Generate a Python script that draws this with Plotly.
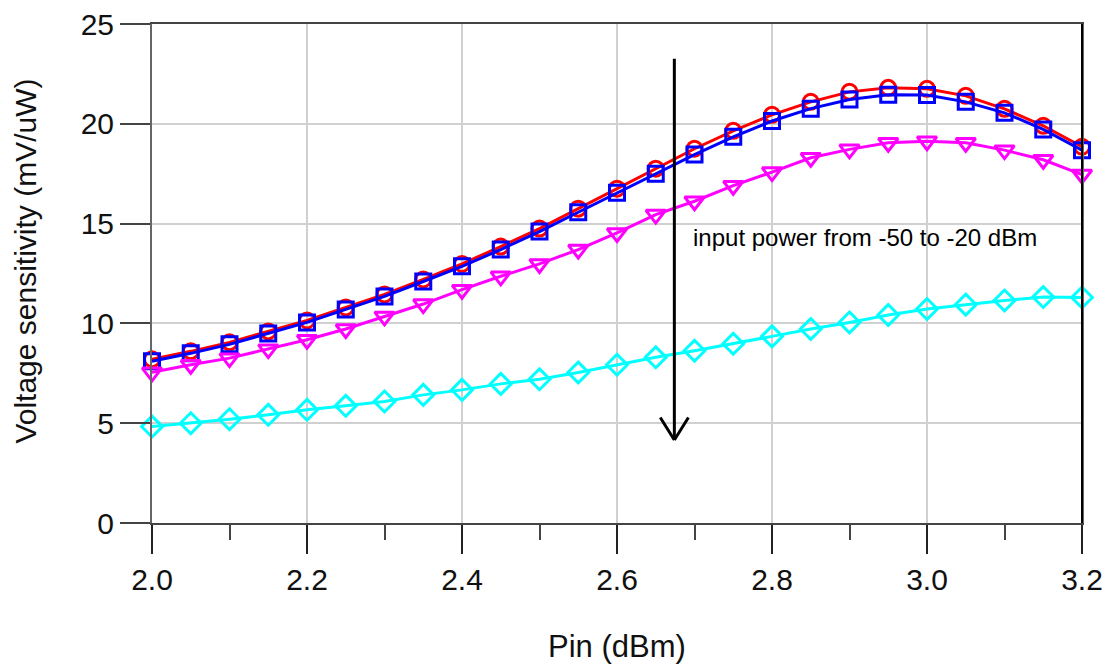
import plotly.graph_objects as go

pin = [2.00, 2.05, 2.10, 2.15, 2.20, 2.25, 2.30, 2.35, 2.40, 2.45, 2.50, 2.55, 2.60,
       2.65, 2.70, 2.75, 2.80, 2.85, 2.90, 2.95, 3.00, 3.05, 3.10, 3.15, 3.20]

red_vals = [8.2, 8.6, 9.05, 9.6, 10.15, 10.8, 11.45, 12.2, 12.98, 13.85, 14.75, 15.75, 16.75,
            17.75, 18.75, 19.65, 20.45, 21.1, 21.6, 21.8, 21.75, 21.4, 20.75, 19.9, 18.85]
blue_vals = [8.1, 8.5, 8.95, 9.5, 10.05, 10.7, 11.35, 12.1, 12.86, 13.7, 14.6, 15.57, 16.54,
             17.5, 18.46, 19.35, 20.14, 20.76, 21.22, 21.45, 21.44, 21.1, 20.55, 19.72, 18.68]
magenta_vals = [7.55, 7.93, 8.26, 8.71, 9.18, 9.72, 10.35, 10.97, 11.69, 12.36, 12.98, 13.7, 14.53,
                15.45, 16.12, 16.9, 17.58, 18.3, 18.72, 19.05, 19.13, 19.05, 18.68, 18.2, 17.46]
cyan_vals = [4.83, 5.0, 5.2, 5.42, 5.67, 5.87, 6.09, 6.42, 6.67, 6.97, 7.2, 7.54, 7.93,
             8.3, 8.63, 8.98, 9.35, 9.72, 10.05, 10.42, 10.72, 10.94, 11.15, 11.32, 11.3]

x_ticks = [2.0, 2.2, 2.4, 2.6, 2.8, 3.0, 3.2]
x_ticklabels = ["2.0", "2.2", "2.4", "2.6", "2.8", "3.0", "3.2"]
y_ticks = [0, 5, 10, 15, 20, 25]

arrow_x = 2.674
arrow_y_start = 23.33
arrow_y_end = 4.16
note_text = "input power from -50 to -20 dBm"
note_x = 2.695
note_y = 14.3

FONT = "Liberation Sans, Arial, sans-serif"

series = [
    (red_vals, "#ff0000", "circle-open", 15),
    (blue_vals, "#0000ff", "square-open", 15),
    (magenta_vals, "#ff00ff", "triangle-down-open", 17),
    (cyan_vals, "#00ffff", "diamond-open", 16),
]

fig = go.Figure()
for vals, color, sym, sz in series:
    fig.add_trace(go.Scatter(
        x=pin, y=vals, mode="lines+markers",
        line=dict(color=color, width=3),
        marker=dict(symbol=sym, size=sz, color=color, line=dict(color=color, width=3)),
        showlegend=False, cliponaxis=False,
    ))

# arrow shaft
fig.add_annotation(
    x=arrow_x, y=arrow_y_end, ax=arrow_x, ay=arrow_y_start,
    xref="x", yref="y", axref="x", ayref="y",
    text="", showarrow=True, arrowhead=0, arrowwidth=3, arrowcolor="black",
)
# open V arrowhead (pixel offsets from the tip)
for dx in (-15, 15):
    fig.add_annotation(
        x=arrow_x, y=arrow_y_end, xref="x", yref="y", ax=dx, ay=-24,
        text="", showarrow=True, arrowhead=0, arrowwidth=3, arrowcolor="black",
    )
fig.add_annotation(
    x=note_x, y=note_y, xref="x", yref="y", text=note_text, showarrow=False,
    xanchor="left", yanchor="middle", font=dict(family=FONT, size=24, color="black"),
)
fig.add_annotation(
    x=0.5, y=-0.248, xref="paper", yref="paper", text="Pin (dBm)", showarrow=False,
    xanchor="center", yanchor="middle", font=dict(family=FONT, size=31, color="#111"),
)
fig.add_annotation(
    x=-0.137, y=0.525, xref="paper", yref="paper", text="Voltage sensitivity (mV/uW)",
    showarrow=False, textangle=-90, xanchor="center", yanchor="middle",
    font=dict(family=FONT, size=30, color="#111"),
)
fig.add_shape(type="line", xref="paper", yref="paper", x0=1, x1=1, y0=0, y1=1,
              line=dict(color="black", width=2))

fig.update_layout(
    width=1107, height=660,
    margin=dict(l=144, r=33, t=16, b=145),
    paper_bgcolor="white", plot_bgcolor="white",
    font=dict(family=FONT, size=30, color="#111"),
    xaxis=dict(
        range=[2.0, 3.2], tickvals=x_ticks, ticktext=x_ticklabels,
        showgrid=True, gridcolor="#d0d0d0", gridwidth=1.5,
        zeroline=False, showline=True, linecolor="#444", linewidth=2, mirror=True,
        ticks="outside", ticklen=29, tickwidth=1.5, tickcolor="#222",
        ticklabelstandoff=0, ticklabeloverflow="allow", automargin=False,
        minor=dict(dtick=0.1, ticks="outside", ticklen=15, tickwidth=1.5, tickcolor="#444", showgrid=False),
        tickfont=dict(family=FONT, size=30, color="#111"),
    ),
    yaxis=dict(
        range=[0, 25], tickvals=y_ticks,
        showgrid=True, gridcolor="#d0d0d0", gridwidth=1.5,
        zeroline=False, showline=True, linecolor="#666", linewidth=2, mirror=True,
        ticks="outside", ticklen=30, tickwidth=1.5, tickcolor="#444",
        ticklabeloverflow="allow", automargin=False,
        tickfont=dict(family=FONT, size=30, color="#111"),
    ),
)

fig.write_html("out.html")
